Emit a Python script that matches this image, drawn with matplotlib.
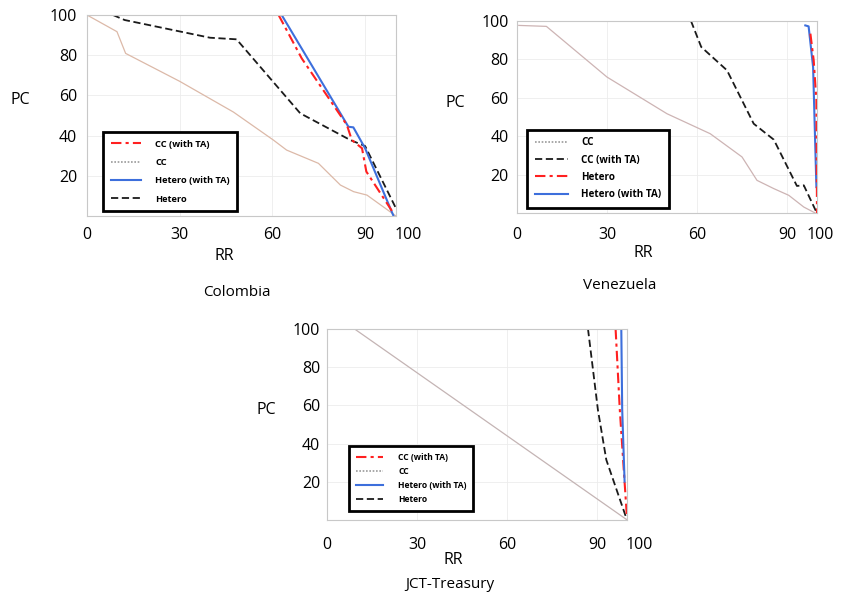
import matplotlib
matplotlib.use("Agg")
import matplotlib.pyplot as plt
from matplotlib.transforms import ScaledTranslation

plt.rcParams['font.family'] = ['Open Sans', 'DejaVu Sans']

# ---------------- data (RR, PC) ----------------
# Colombia
col_cc_rr = [0, 9.7, 12.5, 30, 47.4, 60.3, 64.6, 74.9, 82, 86.3, 90.6, 100]
col_cc_pc = [100, 91.7, 80.9, 67, 51.7, 37.8, 32.8, 26.2, 15.4, 12.1, 10.4, 0]
col_het_rr = [8.4, 12.2, 39.8, 48.4, 69, 85.2, 90, 100]
col_het_pc = [100, 97.5, 88.7, 87.9, 51.1, 37.8, 34.8, 3.8]
col_hetta_rr = [63, 84.6, 86.2, 90, 99.2]
col_hetta_pc = [100, 44.4, 44.1, 33.7, 0]
col_ccta_rr = [62, 69.5, 84.1, 85.7, 89, 90.4, 99.2]
col_ccta_pc = [100, 78.4, 45.3, 37.8, 33.7, 22.1, 1.3]

# Venezuela
ven_cc_rr = [0.6, 9.8, 30, 50, 64.4, 75, 80, 85.6, 90.6, 95.6, 99.4]
ven_cc_pc = [97.7, 97.2, 70.8, 51.7, 41.3, 29.2, 17, 12.7, 9.2, 3.1, 0]
ven_ccta_rr = [58, 61.4, 70, 78.9, 85.6, 93.3, 95.6, 99.8]
ven_ccta_pc = [100, 86.5, 74.3, 46.5, 38.2, 14.1, 14.4, 0.5]
ven_hetta_rr = [96.1, 97.2, 98.7, 99.8]
ven_hetta_pc = [97.7, 97.2, 76, 13.5]
ven_het_rr = [97.8, 98.9, 99.8, 100]
ven_het_pc = [93.4, 79.5, 58.7, 0]

# JCT-Treasury
jct_cc_rr = [9.2, 99.8]
jct_cc_pc = [100, 0.3]
jct_het_rr = [87, 90.3, 93.1, 99.8]
jct_het_pc = [100, 57.7, 31.5, 0.9]
jct_hetta_rr = [98.1, 98.4, 99.2]
jct_hetta_pc = [100, 57.7, 20.1]
jct_ccta_rr = [96.2, 97.6, 100]
jct_ccta_pc = [100, 57.7, 0.9]

x_ticks = [0, 30, 60, 90, 100]
y_ticks = [20, 40, 60, 80, 100]

# ---------------- styles ----------------
RED = '#ff2020'
BLUE = '#3d6fdc'
BLACK = '#1a1a1a'
STY = {
    'ccta': dict(color=RED, lw=1.5, ls=(0, (5, 2, 1.5, 2))),
    'cc': dict(lw=0.9, ls='-'),
    'hetta': dict(color=BLUE, lw=1.5, ls='-'),
    'het': dict(color=BLACK, lw=1.3, ls=(0, (4, 2))),
}

W, H = 841, 596
fig = plt.figure(figsize=(W / 100, H / 100), dpi=100)


def px_axes(x0, y0, x1, y1):
    return fig.add_axes([x0 / W, 1 - y1 / H, (x1 - x0) / W, (y1 - y0) / H])


def ftext(x, y, s, size=11):
    fig.text(x / W, 1 - y / H, s, ha='center', va='center', fontsize=size)


def style_axes(ax, xpad, ypad, shift_px=0):
    ax.set_xlim(0, 100)
    ax.set_ylim(0, 100)
    ax.set_xticks(x_ticks)
    ax.set_xticklabels([str(v) for v in x_ticks])
    ax.set_yticks(y_ticks)
    ax.set_yticklabels([str(v) for v in y_ticks])
    ax.tick_params(axis='both', length=0, labelsize=11.5)
    ax.tick_params(axis='x', pad=xpad)
    ax.tick_params(axis='y', pad=ypad)
    lab = ax.get_xticklabels()[-1]
    lab.set_ha('left')
    lab.set_transform(lab.get_transform() +
                      ScaledTranslation((shift_px - 1) / 100, 0, fig.dpi_scale_trans))
    for s in ax.spines.values():
        s.set_color('#c8c8c8')
        s.set_linewidth(0.8)
    ax.grid(True, color='#ececec', lw=0.6)
    ax.set_axisbelow(True)


def add_legend(ax, handles, labels, anchor, fs, hl, htp, spacing, bp=0.8):
    leg = ax.legend(handles, labels, loc='lower left', bbox_to_anchor=anchor,
                    fontsize=fs, frameon=True, fancybox=False,
                    handlelength=hl, handletextpad=htp,
                    labelspacing=spacing, borderpad=bp, borderaxespad=0)
    fr = leg.get_frame()
    fr.set_edgecolor('black')
    fr.set_linewidth(2)
    fr.set_facecolor('white')
    fr.set_alpha(1)
    for t in leg.get_texts():
        t.set_fontweight('bold')


# ---------------- Colombia ----------------
ax1 = px_axes(87, 15, 396, 216)
style_axes(ax1, 8, 7)
h_cc, = ax1.plot(col_cc_rr, col_cc_pc, color='#dcb9a8', **STY['cc'])
h_het, = ax1.plot(col_het_rr, col_het_pc, **STY['het'])
h_hetta, = ax1.plot(col_hetta_rr, col_hetta_pc, **STY['hetta'])
h_ccta, = ax1.plot(col_ccta_rr, col_ccta_pc, **STY['ccta'])
h_cc_leg = plt.Line2D([], [], color='#9a9a9a', lw=1.2, ls=(0, (1, 1)))
add_legend(ax1, [h_ccta, h_cc_leg, h_hetta, h_het],
           ['CC (with TA)', 'CC', 'Hetero (with TA)', 'Hetero'],
           (0.052, 0.025), 6.7, 3.3, 1.5, 1.0)
ftext(20, 100, 'PC', 11.5)
ftext(224, 256, 'RR', 11.5)
ftext(237, 293, 'Colombia', 11)

# ---------------- Venezuela ----------------
ax2 = px_axes(517, 21, 817, 213)
style_axes(ax2, 10, 6, shift_px=-9)
v_cc, = ax2.plot(ven_cc_rr, ven_cc_pc, color='#cdb4b4', **STY['cc'])
v_ccta, = ax2.plot(ven_ccta_rr, ven_ccta_pc, **STY['het'])
v_hetta, = ax2.plot(ven_hetta_rr, ven_hetta_pc, **STY['hetta'])
v_het, = ax2.plot(ven_het_rr, ven_het_pc, **STY['ccta'])
v_cc_leg = plt.Line2D([], [], color='#9a9a9a', lw=1.2, ls=(0, (1, 1)))
add_legend(ax2, [v_cc_leg, v_ccta, v_het, v_hetta],
           ['CC', 'CC (with TA)', 'Hetero', 'Hetero (with TA)'],
           (0.033, 0.026), 7.1, 3.4, 1.3, 0.63)
ftext(455, 103, 'PC', 11.5)
ftext(643, 253, 'RR', 11.5)
ftext(620, 286, 'Venezuela', 11)

# ---------------- JCT-Treasury ----------------
ax3 = px_axes(327, 329, 627, 520)
style_axes(ax3, 12, 5)
j_cc, = ax3.plot(jct_cc_rr, jct_cc_pc, color='#c4b4b4', **STY['cc'])
j_het, = ax3.plot(jct_het_rr, jct_het_pc, **STY['het'])
j_ccta, = ax3.plot(jct_ccta_rr, jct_ccta_pc, **STY['ccta'])
j_hetta, = ax3.plot(jct_hetta_rr, jct_hetta_pc, **STY['hetta'])
j_cc_leg = plt.Line2D([], [], color='#9a9a9a', lw=1.2, ls=(0, (1, 1)))
add_legend(ax3, [j_ccta, j_cc_leg, j_hetta, j_het],
           ['CC (with TA)', 'CC', 'Hetero (with TA)', 'Hetero'],
           (0.073, 0.047), 6.1, 3.2, 1.8, 0.6)
ftext(266, 410, 'PC', 11.5)
ftext(453, 560, 'RR', 11.5)
ftext(450, 585, 'JCT-Treasury', 11)

fig.savefig('out.png', dpi=100)
